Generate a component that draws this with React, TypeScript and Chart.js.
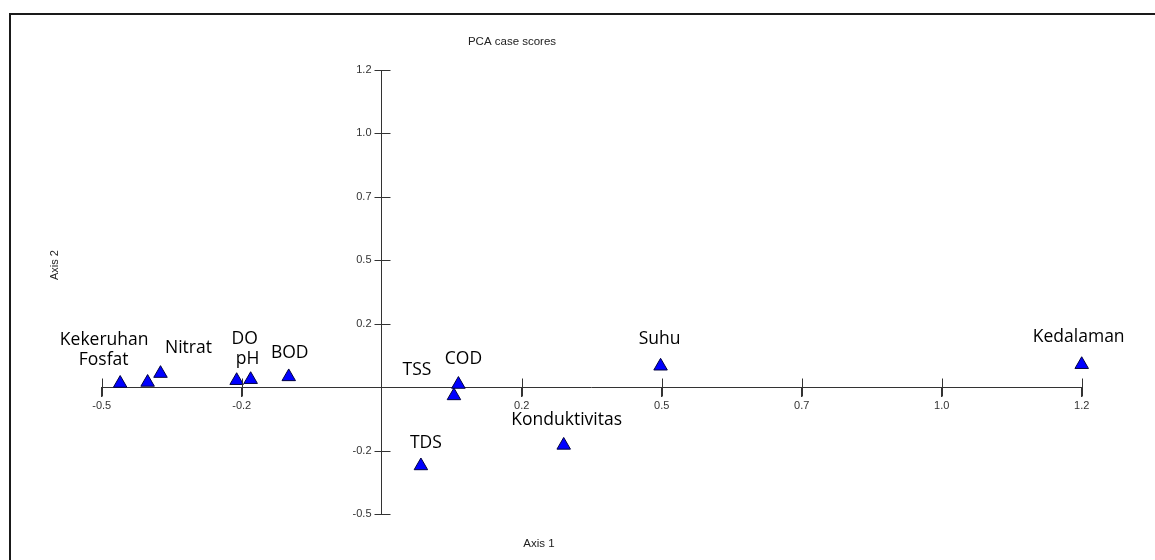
import React, { useEffect, useRef } from "react";
import { Chart, registerables } from "chart.js";

Chart.register(...registerables);

// ---- data ----
const variableNames = [
  "Kekeruhan",
  "Fosfat",
  "Nitrat",
  "DO",
  "pH",
  "BOD",
  "COD",
  "TSS",
  "TDS",
  "Konduktivitas",
  "Suhu",
  "Kedalaman",
];
const axis1Scores = [-0.467, -0.418, -0.395, -0.259, -0.234, -0.166, 0.137, 0.129, 0.07, 0.325, 0.498, 1.25];
const axis2Scores = [0.015, 0.019, 0.054, 0.026, 0.03, 0.041, 0.011, -0.034, -0.31, -0.229, 0.083, 0.089];

const xTickValues = [-0.5, -0.25, 0.25, 0.5, 0.75, 1.0, 1.25];
const xTickLabels = ["-0.5", "-0.2", "0.2", "0.5", "0.7", "1.0", "1.2"];
const yTickValues = [-0.5, -0.25, 0.25, 0.5, 0.75, 1.0, 1.25];
const yTickLabels = ["-0.5", "-0.2", "0.2", "0.5", "0.7", "1.0", "1.2"];

const chartTitle = "PCA case scores";
const xAxisTitle = "Axis 1";
const yAxisTitle = "Axis 2";

// ---- styling (label offsets in px, relative to each marker) ----
const labelOffsets: [number, number][] = [
  [-16, -43],
  [-44, -22],
  [28, -25],
  [8, -42],
  [-3, -21],
  [1, -24],
  [5, -25],
  [-37, -26],
  [5, -23],
  [3, -25],
  [-1, -27],
  [-3, -28],
];

const W = 1155;
const H = 560;
const sansSmall = '"Liberation Sans", Arial, sans-serif';
const labelFont = '"Open Sans", "Noto Sans", sans-serif';

const overlayPlugin = {
  id: "overlay",
  afterDraw(chart: any) {
    const ctx = chart.ctx as CanvasRenderingContext2D;
    const xs = chart.scales.x;
    const ys = chart.scales.y;
    ctx.save();

    // outer frame
    ctx.strokeStyle = "#1a1a1a";
    ctx.lineWidth = 2;
    ctx.beginPath();
    ctx.moveTo(10, H);
    ctx.lineTo(10, 14);
    ctx.lineTo(W, 14);
    ctx.stroke();

    // tick marks crossing both axes
    const x0 = Math.round(xs.getPixelForValue(0)) + 0.5;
    const y0 = Math.round(ys.getPixelForValue(0)) + 0.5;
    ctx.strokeStyle = "#333";
    ctx.lineWidth = 1;
    ctx.beginPath();
    xs.ticks.forEach((t: any) => {
      const px = Math.round(xs.getPixelForValue(t.value)) + 0.5;
      ctx.moveTo(px, y0 - 9);
      ctx.lineTo(px, y0 + 9);
    });
    ys.ticks.forEach((t: any) => {
      const py = Math.round(ys.getPixelForValue(t.value)) + 0.5;
      ctx.moveTo(x0 - 8, py);
      ctx.lineTo(x0 + 8, py);
    });
    ctx.stroke();

    // y tick labels, to the left of the centred axis
    ctx.fillStyle = "#333";
    ctx.font = `11px ${sansSmall}`;
    ctx.textAlign = "right";
    ctx.textBaseline = "middle";
    ys.ticks.forEach((t: any) => {
      const py = ys.getPixelForValue(t.value);
      ctx.fillText(yTickLabels[yTickValues.indexOf(t.value)], x0 - 11, py);
    });

    // title and axis titles
    ctx.fillStyle = "#222";
    ctx.font = `11.5px ${sansSmall}`;
    ctx.textAlign = "center";
    ctx.textBaseline = "alphabetic";
    ctx.fillText(chartTitle, 512, 45);
    ctx.font = `11.5px ${sansSmall}`;
    ctx.fillText(xAxisTitle, 539, 547);
    ctx.save();
    ctx.translate(58, 265);
    ctx.rotate(-Math.PI / 2);
    ctx.font = `11px ${sansSmall}`;
    ctx.fillText(yAxisTitle, 0, 0);
    ctx.restore();

    // variable labels
    const meta = chart.getDatasetMeta(0);
    ctx.fillStyle = "#000";
    ctx.font = `17.5px ${labelFont}`;
    ctx.textAlign = "center";
    ctx.textBaseline = "middle";
    meta.data.forEach((pt: any, i: number) => {
      const [dx, dy] = labelOffsets[i];
      ctx.fillText(variableNames[i], pt.x + dx, pt.y + dy);
    });
    ctx.restore();
  },
};

export default function App() {
  const canvasRef = useRef<HTMLCanvasElement | null>(null);

  useEffect(() => {
    const canvas = canvasRef.current;
    if (!canvas) return;
    const chart = new Chart(canvas, {
      type: "scatter",
      data: {
        datasets: [
          {
            label: chartTitle,
            data: axis1Scores.map((x, i) => ({ x, y: axis2Scores[i] })),
            pointStyle: "triangle",
            pointRadius: 7.8,
            pointHoverRadius: 7.8,
            backgroundColor: "#0000ff",
            borderColor: "#000040",
            borderWidth: 1,
            clip: false,
          },
        ],
      },
      options: {
        responsive: false,
        animation: false,
        devicePixelRatio: 1,
        layout: { padding: { left: 101.7, top: 70, right: 73.3, bottom: 46 } },
        plugins: {
          legend: { display: false },
          tooltip: { enabled: false },
          title: { display: false },
        },
        scales: {
          x: {
            type: "linear",
            position: { y: 0 },
            min: -0.5,
            max: 1.25,
            afterBuildTicks: (scale: any) => {
              scale.ticks = xTickValues.map((value) => ({ value }));
            },
            ticks: {
              autoSkip: false,
              maxRotation: 0,
              padding: 3,
              color: "#333",
              font: { family: sansSmall, size: 11 },
              callback: (value: any) => xTickLabels[xTickValues.indexOf(Number(value))],
            },
            grid: { drawOnChartArea: false, drawTicks: true, tickLength: 9, color: "#333" },
            border: { display: true, color: "#333", width: 1 },
          },
          y: {
            type: "linear",
            position: { x: 0 },
            min: -0.5,
            max: 1.25,
            afterBuildTicks: (scale: any) => {
              scale.ticks = yTickValues.map((value) => ({ value }));
            },
            ticks: {
              display: false,
              autoSkip: false,
            },
            grid: { drawOnChartArea: false, drawTicks: false, color: "#333" },
            border: { display: true, color: "#333", width: 1 },
          },
        },
      },
      plugins: [overlayPlugin],
    } as any);
    return () => chart.destroy();
  }, []);

  return (
    <div style={{ position: "absolute", left: 0, top: 0, width: W, height: H, background: "#fff", overflow: "hidden" }}>
      <canvas ref={canvasRef} width={W} height={H} style={{ display: "block", width: W, height: H }} />
    </div>
  );
}
